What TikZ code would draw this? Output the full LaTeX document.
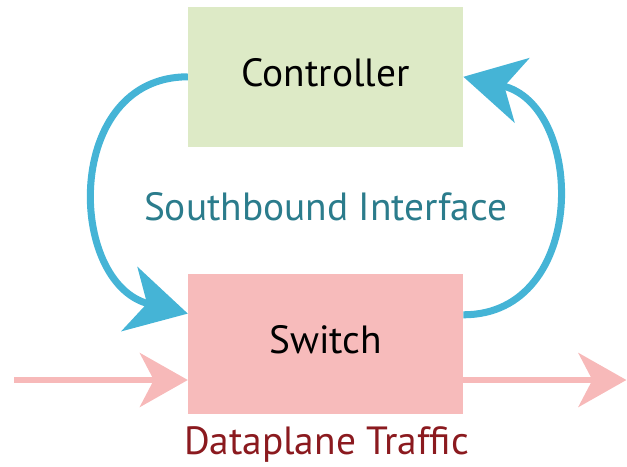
\documentclass[tikz,border=0pt]{standalone}
\usepackage{fontspec}
\setmainfont{PT Sans}
\usetikzlibrary{arrows.meta}
\definecolor{ctrlgreen}{HTML}{DDEAC6}
\definecolor{swpink}{HTML}{F7BBBB}
\definecolor{sbblue}{HTML}{45B4D6}
\definecolor{sbteal}{HTML}{2B7C8C}
\definecolor{dpred}{HTML}{8B1A1F}
\definecolor{dppink}{HTML}{F7B9B9}
\begin{document}
\begin{tikzpicture}[
    box/.style = {inner sep=0pt, minimum width=6.875cm, minimum height=3.5cm,
        text depth=0.2cm, font=\fontsize{28}{32}\selectfont},
    caption/.style = {inner sep=0pt, font=\fontsize{28}{32}\selectfont},
    sbarrow/.style = {draw=sbblue, line width=5pt,
        -{Stealth[length=1.5cm, width=1.65cm, inset=0.45cm]}},
    dparrow/.style = {draw=dppink, line width=4pt,
        -{Stealth[length=1.2cm, width=1.35cm, inset=0.35cm]}}
  ]
  \useasboundingbox (0,0) rectangle (15.675,11.65);

  %Controller
  \node [box, fill = ctrlgreen]
  (ctrl)at(8.14,9.73){Controller};
  %Switch
  \node [box, fill = swpink]
  (sw)at(8.14,3.06){Switch};

  %Labels
  \node [caption, text = sbteal]
  (sbi)at(8.14,6.48){Southbound Interface};
  \node [caption, text = dpred, anchor = base]
  (dpt)at(8.16,0.28){Dataplane Traffic};

  %Southbound interface
  \draw [sbarrow](ctrl.west) to[out=180, in=166, looseness=1.35] ([yshift=0.75cm]sw.west);
  \draw [sbarrow]([yshift=0.72cm]sw.east) to[out=0, in=-13, looseness=1.35] (ctrl.east);

  %Dataplane traffic
  \coordinate (dpin) at (0.35,2.15);
  \coordinate (dpout) at (15.66,2.15);
  \draw [dparrow](dpin)--(dpin -| sw.west);
  \draw [dparrow](dpout -| sw.east)--(dpout);

\end{tikzpicture}
\end{document}
